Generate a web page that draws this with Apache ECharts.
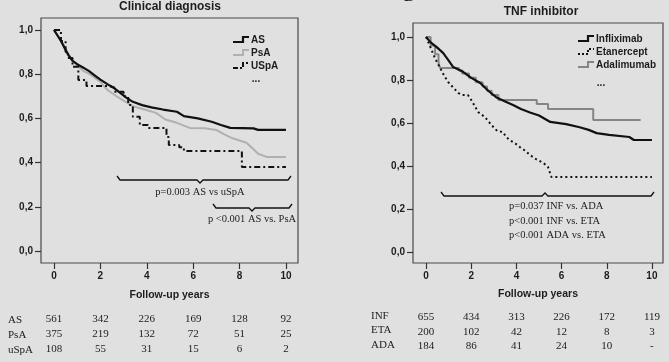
<!DOCTYPE html>
<html><head><meta charset="utf-8">
<script src="https://cdn.jsdelivr.net/npm/echarts@6/dist/echarts.min.js"></script>
<style>html,body{margin:0;padding:0;background:#e0e0e0;}#c{width:669px;height:362px;}</style>
</head><body><div id="c"></div>
<script>
// ---- Data (time in years, survival proportion) ----
var xTicks = [0, 2, 4, 6, 8, 10];
var yTicks = [0, 0.2, 0.4, 0.6, 0.8, 1.0];

var AS = [[0,1],[0.15,0.975],[0.3,0.95],[0.45,0.92],[0.6,0.89],[0.8,0.86],[1.0,0.845],[1.25,0.83],[1.5,0.815],[1.75,0.795],[2.0,0.775],[2.3,0.755],[2.55,0.74],[2.8,0.72],[3.1,0.695],[3.4,0.675],[3.8,0.66],[4.2,0.65],[4.7,0.64],[5.3,0.63],[5.6,0.61],[6.2,0.6],[6.8,0.585],[7.2,0.57],[7.6,0.557],[8.6,0.555],[8.8,0.548],[10,0.548]];
var PsA = [[0,1],[0.2,0.97],[0.35,0.945],[0.55,0.905],[0.75,0.87],[1.0,0.84],[1.25,0.815],[1.55,0.8],[2.0,0.765],[2.2,0.74],[2.35,0.725],[2.7,0.70],[3.0,0.68],[3.4,0.655],[3.9,0.64],[4.4,0.625],[4.8,0.595],[5.3,0.58],[5.85,0.557],[6.5,0.555],[7.0,0.548],[7.3,0.53],[7.7,0.51],[8.3,0.49],[8.6,0.46],[8.8,0.44],[9.2,0.425],[10,0.425]];
var uSpA = [[0,1],[0.3,0.95],[0.5,0.9],[0.6,0.873],[0.8,0.833],[1.05,0.774],[1.4,0.747],[2.35,0.74],[2.6,0.72],[3.0,0.70],[3.2,0.66],[3.4,0.607],[3.7,0.57],[4.05,0.557],[4.85,0.516],[4.95,0.48],[5.4,0.47],[5.6,0.453],[8.1,0.38],[10,0.38]];

var INF = [[0,1],[0.2,0.975],[0.47,0.953],[0.76,0.925],[1.0,0.89],[1.2,0.86],[1.65,0.837],[2.0,0.81],[2.4,0.786],[2.75,0.75],[3.1,0.72],[3.5,0.70],[3.85,0.684],[4.2,0.665],[4.6,0.649],[5.0,0.635],[5.5,0.605],[6.2,0.595],[6.8,0.58],[7.2,0.568],[7.55,0.553],[8.1,0.545],[9.0,0.535],[9.2,0.521],[10,0.521]];
var ETA = [[0,1],[0.2,0.95],[0.4,0.9],[0.62,0.856],[0.8,0.82],[0.98,0.79],[1.2,0.765],[1.42,0.74],[1.6,0.73],[1.85,0.73],[2.0,0.707],[2.15,0.68],[2.3,0.651],[2.6,0.628],[2.9,0.59],[3.15,0.563],[3.4,0.558],[3.55,0.535],[3.7,0.521],[3.95,0.505],[4.15,0.488],[4.4,0.47],[4.6,0.451],[4.9,0.43],[5.2,0.414],[5.4,0.395],[5.55,0.349],[10,0.349]];
var ADA = [[0,1],[0.2,0.96],[0.4,0.92],[0.55,0.88],[0.62,0.856],[1.45,0.845],[1.6,0.83],[1.9,0.81],[2.2,0.79],[2.5,0.77],[2.7,0.75],[2.9,0.73],[3.2,0.707],[4.9,0.688],[5.4,0.665],[7.4,0.614],[9.5,0.614]];

// Numbers at risk
var riskLeftLabels = ['AS', 'PsA', 'uSpA'];
var riskAS   = [561, 342, 226, 169, 128, 92];
var riskPsA  = [375, 219, 132, 72, 51, 25];
var riskUSpA = [108, 55, 31, 15, 6, 2];
var riskRightLabels = ['INF', 'ETA', 'ADA'];
var riskINF = [655, 434, 313, 226, 172, 119];
var riskETA = [200, 102, 42, 12, 8, 3];
var riskADA = [184, 86, 41, 24, 10, '-'];

var leftTitle = 'Clinical diagnosis';
var rightTitle = 'TNF inhibitor';
var xName = 'Follow-up years';
var leftNotes = ['p=0.003 AS vs uSpA', 'p <0.001 AS vs. PsA'];
var rightNotes = ['p=0.037 INF vs. ADA', 'p<0.001 INF vs. ETA', 'p<0.001 ADA vs. ETA'];

// ---- Chart ----
var chart = echarts.init(document.getElementById('c'), null, {renderer: 'canvas'});
var SANS = 'Arial, "Liberation Sans", Helvetica, sans-serif';
var SERIF = '"Times New Roman", "Liberation Serif", serif';
var TXT = '#1c1c1c';

// axis ranges extend beyond the data area (SPSS-style frame)
var LX = [-0.56, 10.52], LY = [-0.054, 1.054];
var RX = [-0.58, 10.49], RY = [-0.051, 1.065];

function mainX(gi, rng, gap) {
  return {type: 'value', gridIndex: gi, min: rng[0], max: rng[1],
    axisLine: {show: false, onZero: false}, splitLine: {show: false},
    axisTick: {show: true, length: 6, customValues: xTicks, lineStyle: {color: '#333', width: 1.2}},
    axisLabel: {margin: 8, customValues: xTicks, fontFamily: SANS, fontWeight: 'bold', fontSize: 10, color: TXT},
    name: xName, nameLocation: 'middle', nameGap: gap,
    nameTextStyle: {fontFamily: SANS, fontWeight: 'bold', fontSize: 10.5, color: TXT}};
}
function riskX(gi, rng, off, arr) {
  return {type: 'value', gridIndex: gi, min: rng[0], max: rng[1], offset: off, position: 'bottom',
    axisLine: {show: false, onZero: false}, axisTick: {show: false}, splitLine: {show: false},
    axisLabel: {margin: 0, customValues: xTicks, fontFamily: SERIF, fontSize: 11, color: TXT, verticalAlign: 'top',
      formatter: function (v) { return String(arr[Math.round(v / 2)]); }}};
}
function mainY(gi, rng) {
  return {type: 'value', gridIndex: gi, min: rng[0], max: rng[1],
    axisLine: {show: false, onZero: false}, splitLine: {show: false},
    axisTick: {show: true, length: 6, customValues: yTicks, lineStyle: {color: '#333', width: 1.2}},
    axisLabel: {margin: 8, customValues: yTicks, fontFamily: SANS, fontWeight: 'bold', fontSize: 10, color: TXT,
      formatter: function (v) { return v.toFixed(1).replace('.', ','); }}};
}

function ser(name, data, xi, yi, color, width, type, step) {
  return {name: name, type: 'line', step: step, data: data, xAxisIndex: xi, yAxisIndex: yi,
    showSymbol: false, symbol: 'none', silent: true, animation: false,
    lineStyle: {color: color, width: width, type: type}};
}

function brace(x1, x2, xm, yEnd, yLine, yTip) {
  return {type: 'polyline', silent: true,
    shape: {points: [[x1, yEnd], [x1 + 3, yLine], [xm - 3, yLine], [xm, yTip], [xm + 3, yLine], [x2 - 3, yLine], [x2, yEnd]]},
    style: {stroke: '#111', lineWidth: 1.3, fill: null}};
}
function legendItem(x, y, label, color, dash, width) {
  return [{type: 'polyline', silent: true,
    shape: {points: [[x, y + 2], [x + 10, y + 2], [x + 10, y - 3], [x + 16, y - 3]]},
    style: {stroke: color, lineWidth: width, fill: null, lineDash: dash}},
    {type: 'text', silent: true, x: x + 18, y: y, style: {text: label, font: 'bold 10px ' + SANS, fill: TXT, textVerticalAlign: 'middle'}}];
}
function txt(x, y, s, align, font) {
  return {type: 'text', silent: true, x: x, y: y,
    style: {text: s, font: font, fill: TXT, textAlign: align, textVerticalAlign: 'middle'}};
}

var graphics = [];
graphics = graphics.concat(legendItem(233, 40, 'AS', '#111', null, 2.2));
graphics = graphics.concat(legendItem(233, 53, 'PsA', '#b0b0b0', null, 2));
graphics = graphics.concat(legendItem(233, 66, 'USpA', '#111', [5, 2, 2, 2], 2));
graphics.push(txt(256, 79, '...', 'center', 'bold 10px ' + SANS));
graphics = graphics.concat(legendItem(578, 39, 'Infliximab', '#111', null, 2.2));
graphics = graphics.concat(legendItem(578, 52, 'Etanercept', '#111', [2, 2], 2));
graphics = graphics.concat(legendItem(578, 65, 'Adalimumab', '#858585', null, 2));
graphics.push(txt(601, 83, '...', 'center', 'bold 10px ' + SANS));
graphics.push(brace(117, 291, 200, 176, 180, 183));
graphics.push(txt(200, 192, leftNotes[0], 'center', '10.5px ' + SERIF));
graphics.push(brace(213, 292, 252, 204, 208, 211));
graphics.push(txt(252, 219, leftNotes[1], 'center', '10.5px ' + SERIF));
graphics.push(brace(441, 654, 545, 192, 196, 193));
graphics.push(txt(509, 206, rightNotes[0], 'left', '10.5px ' + SERIF));
graphics.push(txt(509, 221, rightNotes[1], 'left', '10.5px ' + SERIF));
graphics.push(txt(509, 235, rightNotes[2], 'left', '10.5px ' + SERIF));
for (var i = 0; i < 3; i++) {
  graphics.push(txt(8, 320 + i * 15, riskLeftLabels[i], 'left', '11px ' + SERIF));
  graphics.push(txt(371, 316 + i * 14.5, riskRightLabels[i], 'left', '11px ' + SERIF));
}
graphics.push({type: 'text', silent: true, x: 404, y: -10, style: {text: 'B', font: 'bold 15px ' + SERIF, fill: TXT}});

var option = {
  backgroundColor: '#e0e0e0',
  animation: false,
  title: [
    {text: leftTitle, left: 170, top: 1, padding: 0, textAlign: 'center',
      textStyle: {fontFamily: SANS, fontWeight: 'bold', fontSize: 12, color: TXT}},
    {text: rightTitle, left: 541, top: 6, padding: 0, textAlign: 'center',
      textStyle: {fontFamily: SANS, fontWeight: 'bold', fontSize: 12, color: TXT}}
  ],
  grid: [
    {left: 41, top: 18, width: 257, height: 245, show: true, borderColor: '#4a4a4a', borderWidth: 1.2, backgroundColor: 'transparent'},
    {left: 413, top: 23, width: 250, height: 240, show: true, borderColor: '#4a4a4a', borderWidth: 1.2, backgroundColor: 'transparent'}
  ],
  xAxis: [
    mainX(0, LX, 27), mainX(1, RX, 26),
    riskX(0, LX, 51, riskAS), riskX(0, LX, 66, riskPsA), riskX(0, LX, 81, riskUSpA),
    riskX(1, RX, 49, riskINF), riskX(1, RX, 63.5, riskETA), riskX(1, RX, 78, riskADA)
  ],
  yAxis: [mainY(0, LY), mainY(1, RY)],
  series: [
    ser('PsA', PsA, 0, 0, '#b0b0b0', 2, 'solid', false),
    ser('AS', AS, 0, 0, '#111111', 2.2, 'solid', false),
    ser('uSpA', uSpA, 0, 0, '#111111', 2, [6, 3, 2, 3], 'end'),
    ser('Adalimumab', ADA, 1, 1, '#858585', 2, 'solid', 'end'),
    ser('Etanercept', ETA, 1, 1, '#111111', 2, [2, 3], false),
    ser('Infliximab', INF, 1, 1, '#111111', 2.2, 'solid', false)
  ],
  graphic: graphics
};
chart.setOption(option);
</script>
</body></html>
